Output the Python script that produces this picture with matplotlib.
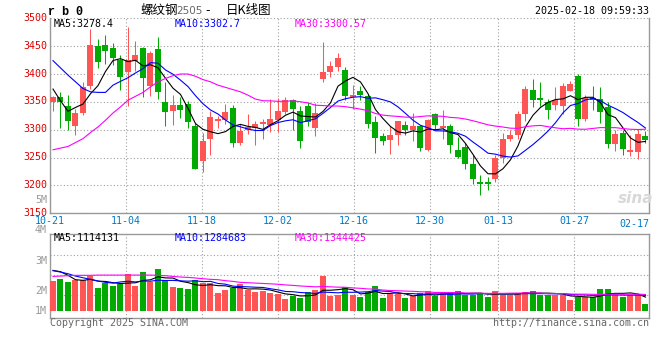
import numpy as np
import pandas as pd
import matplotlib
matplotlib.use('Agg')
import matplotlib.pyplot as plt
import matplotlib.transforms as mtransforms

# rb0 daily candles, 2024-10-21 .. 2025-02-18 (80 trading days)
opens = [3349, 3359, 3343, 3306, 3330, 3379, 3450, 3452, 3447, 3425,
         3403, 3424, 3447, 3379, 3445, 3349, 3333, 3345, 3347, 3306,
         3243, 3284, 3315, 3318, 3339, 3277, 3299, 3303, 3311, 3309,
         3317, 3331, 3354, 3334, 3342, 3304, 3391, 3403, 3413, 3407,
         3359, 3370, 3361, 3313, 3289, 3282, 3290, 3309, 3299, 3307,
         3264, 3328, 3304, 3306, 3264, 3269, 3239, 3207, 3207, 3212,
         3249, 3284, 3290, 3328, 3371, 3357, 3349, 3345, 3342, 3370,
         3397, 3319, 3357, 3355, 3340, 3274, 3294, 3260, 3260, 3289]
highs = [3360, 3367, 3362, 3338, 3386, 3480, 3462, 3470, 3455, 3434,
         3484, 3460, 3448, 3441, 3466, 3386, 3362, 3358, 3351, 3312,
         3295, 3333, 3324, 3346, 3345, 3310, 3329, 3316, 3319, 3355,
         3357, 3358, 3355, 3343, 3349, 3348, 3458, 3424, 3438, 3412,
         3380, 3379, 3364, 3324, 3294, 3307, 3316, 3316, 3330, 3309,
         3319, 3330, 3336, 3310, 3287, 3276, 3255, 3219, 3215, 3255,
         3294, 3300, 3333, 3379, 3391, 3386, 3355, 3376, 3383, 3388,
         3400, 3363, 3379, 3377, 3349, 3300, 3300, 3290, 3302, 3298]
lows = [3334, 3303, 3300, 3290, 3327, 3374, 3410, 3418, 3416, 3371,
        3343, 3405, 3358, 3361, 3356, 3306, 3308, 3321, 3304, 3229,
        3225, 3254, 3303, 3310, 3269, 3273, 3293, 3273, 3284, 3296,
        3296, 3329, 3299, 3268, 3307, 3288, 3385, 3395, 3406, 3354,
        3338, 3354, 3304, 3258, 3272, 3256, 3273, 3291, 3280, 3261,
        3261, 3302, 3284, 3259, 3249, 3230, 3202, 3183, 3191, 3207,
        3240, 3280, 3284, 3315, 3340, 3343, 3319, 3336, 3328, 3369,
        3306, 3315, 3336, 3312, 3268, 3262, 3255, 3252, 3248, 3276]
closes = [3359.5, 3349, 3315, 3330, 3377, 3452, 3422, 3442, 3428, 3394,
          3425, 3434, 3392, 3438, 3367, 3331, 3345, 3336, 3313, 3230,
          3280, 3323, 3319, 3331, 3277, 3298, 3305, 3310, 3313, 3319,
          3334, 3354, 3338, 3279, 3313, 3330, 3404, 3415, 3429, 3360,
          3362, 3363, 3310, 3286, 3279, 3291, 3315, 3299, 3306, 3268,
          3318, 3309, 3307, 3272, 3251, 3238, 3211, 3203, 3202, 3250,
          3284, 3291, 3328, 3373, 3354, 3354, 3336, 3354, 3379, 3382,
          3319, 3357, 3354, 3331, 3274, 3293, 3265, 3263, 3292, 3282]
volumes = [2420000, 2610000, 2390000, 2560000, 2560000, 2830000, 1870000, 2250000, 2060000, 2200000,
           3020000, 2010000, 3190000, 2340000, 3440000, 2560000, 1950000, 1870000, 1790000, 2530000,
           2280000, 2280000, 1460000, 1730000, 1840000, 2200000, 1730000, 1540000, 1600000, 1460000,
           1380000, 960000, 1240000, 1050000, 1540000, 1730000, 2890000, 1240000, 1290000, 1950000,
           1320000, 1130000, 1540000, 2040000, 1050000, 1400000, 1400000, 1050000, 1210000, 1430000,
           1620000, 1180000, 1430000, 1540000, 1620000, 1320000, 1320000, 1460000, 1130000, 1620000,
           1320000, 1320000, 1460000, 1540000, 1620000, 1320000, 1320000, 1320000, 1270000, 880000,
           1130000, 1130000, 1130000, 1790000, 1790000, 1320000, 1130000, 1320000, 1320000, 550000]

ma5_head = [3373, 3352, 3333, 3340]
ma10_head = [3424, 3411, 3398, 3386, 3374, 3368, 3367, 3367, 3380]
ma30_head = [3264, 3267, 3270, 3277, 3284, 3295, 3305, 3317, 3330, 3341,
             3353, 3360, 3367, 3377, 3386, 3392, 3397, 3400, 3400, 3396,
             3390, 3386, 3380, 3376, 3372, 3368, 3362, 3355, 3352]
vma5_head = [3330000, 3220000, 2920000, 2560000]
vma10_head = [3300000, 3190000, 3050000, 2860000, 2720000, 2590000, 2450000, 2340000, 2280000]
vma30_head = [2830000, 2860000, 2890000, 2920000, 2920000, 2920000, 2940000, 2940000, 2940000, 2940000,
              2940000, 2940000, 2940000, 2940000, 2920000, 2890000, 2830000, 2780000, 2750000, 2700000,
              2640000, 2590000, 2560000, 2480000, 2420000, 2340000, 2310000, 2280000, 2250000]

ma_last = ['3278.4', '3302.7', '3300.57']
vma_last = ['1114131', '1284683', '1344425']

tick_idx = [0, 10, 20, 30, 40, 50, 59, 69]
tick_labels = ['10-21', '11-04', '11-18', '12-02', '12-16', '12-30', '01-13', '01-27']
last_label = '02-17'
price_ticks = [3150, 3200, 3250, 3300, 3350, 3400, 3450, 3500]
vol_labels = ['4M', '3M', '2M', '1M']


def with_head(series, n, head):
    ma = pd.Series(series, dtype=float).rolling(n).mean().to_numpy()
    ma[:len(head)] = head
    return ma


RED = '#ff5555'
GREEN = '#00aa00'
GRID = '#a0a0a0'
FRAME = '#999999'
MONO = 'DejaVu Sans Mono'
FS = 7.2

o = np.array(opens, float)
c = np.array(closes, float)
h = np.array(highs, float)
l = np.array(lows, float)
x = np.arange(len(c))
up = c >= o
cols = np.where(up, RED, GREEN)

ma5 = with_head(closes, 5, ma5_head)
ma10 = with_head(closes, 10, ma10_head)
ma30 = with_head(closes, 30, ma30_head)
vma5 = with_head(volumes, 5, vma5_head)
vma10 = with_head(volumes, 10, vma10_head)
vma30 = with_head(volumes, 30, vma30_head)

W, H = 660, 360
fx = lambda px: px / W
fy = lambda py: 1 - py / H

fig = plt.figure(figsize=(6.6, 3.6), dpi=100)
fig.patch.set_facecolor('white')

ax = fig.add_axes([fx(50), fy(213.3), fx(599), 195 / H])
ax2 = fig.add_axes([fx(50), fy(318), fx(599), 84 / H])

# sina's grid drifts a little against the candles (7.6px vs 7.5px per day)
grid_x = np.array(tick_idx) * 7.6 / 7.5 - 0.4
xlim = (-0.4, 79.47)

# candles
body_lo = np.minimum(o, c)
body_h = np.maximum(np.abs(c - o), 1.8)
ax.vlines(x, l, h, colors=cols, linewidth=0.75, zorder=3)
ax.bar(x, body_h, bottom=body_lo, width=0.8, color=cols, linewidth=0, zorder=4)
ax.plot(x, ma5, color='black', lw=0.8, zorder=5)
ax.plot(x, ma10, color='#0000ff', lw=0.8, zorder=5)
ax.plot(x, ma30, color='#ff00ff', lw=0.8, zorder=5)

ax.set_xlim(*xlim)
ax.set_ylim(3150, 3500)
ax.set_yticks(price_ticks)
ax.set_yticklabels([str(p) for p in price_ticks], color='#dd0000', family=MONO, fontsize=FS)
ax.set_xticks(grid_x)
ax.set_xticklabels(tick_labels, color='#0078c8', family=MONO, fontsize=FS)
ax.tick_params(axis='y', length=0, pad=2.2)
ax.tick_params(axis='x', length=0, pad=2.0)
# price labels sit a pixel or two above their grid line
lift = mtransforms.ScaledTranslation(0, 1.5 / 100, fig.dpi_scale_trans)
for lab in ax.get_yticklabels():
    lab.set_transform(lab.get_transform() + lift)
ax.grid(True, color=GRID, linestyle=(0, (1, 2)), linewidth=0.8)
ax.set_axisbelow(True)
for s in ['left', 'right', 'bottom']:
    ax.spines[s].set_color(FRAME)
    ax.spines[s].set_linewidth(1.0)
ax.spines['top'].set_visible(False)
ax.text(1.0, -0.03, last_label, transform=ax.transAxes, ha='right', va='top',
        color='#0078c8', family=MONO, fontsize=FS)

# volume
vol = np.array(volumes, float)
ax2.bar(x, vol, width=0.8, color=cols, linewidth=0, zorder=3)
ax2.plot(x, vma5, color='black', lw=0.8, zorder=4)
ax2.plot(x, vma10, color='#0000ff', lw=0.8, zorder=4)
ax2.plot(x, vma30, color='#ff00ff', lw=0.8, zorder=4)
ax2.set_xlim(*xlim)
vlo, vhi = -0.6e6, 6.33e6
ax2.set_ylim(vlo, vhi)
ax2.set_yticks([vlo + f * (vhi - vlo) for f in (0.27, 0.515, 0.753)])
ax2.set_yticklabels([])
ax2.set_xticks(grid_x)
ax2.set_xticklabels([])
ax2.tick_params(length=0)
ax2.grid(True, color=GRID, linestyle=(0, (1, 2)), linewidth=0.8)
ax2.set_axisbelow(True)
for s in ax2.spines.values():
    s.set_color(FRAME)
    s.set_linewidth(1.0)

# texts
txt = dict(family=MONO, fontsize=FS, va='center')
fig.text(fx(48), fy(12), 'r b 0', family='Liberation Mono', weight='bold', fontsize=8.5, va='center')
fig.text(fx(140), fy(10.5), '螺纹钢', family='Noto Sans CJK SC', fontsize=9, va='center')
fig.text(fx(176.5), fy(11), '2505', family='DejaVu Sans', fontsize=7.5, color='#666666', va='center')
fig.text(fx(205), fy(10.5), '-', family='DejaVu Sans', fontsize=9, va='center')
fig.text(fx(226), fy(10.5), '日K线图', family='Noto Sans CJK SC', fontsize=9, va='center')
fig.text(fx(649), fy(11), '2025-02-18 09:59:33', ha='right', **txt)

fig.text(fx(54), fy(24), 'MA5:' + ma_last[0], color='black', **txt)
fig.text(fx(175), fy(24), 'MA10:' + ma_last[1], color='#0000ff', **txt)
fig.text(fx(295), fy(24), 'MA30:' + ma_last[2], color='#ff00ff', **txt)
fig.text(fx(54), fy(238), 'MA5:' + vma_last[0], color='black', **txt)
fig.text(fx(175), fy(238), 'MA10:' + vma_last[1], color='#0000ff', **txt)
fig.text(fx(295), fy(238), 'MA30:' + vma_last[2], color='#ff00ff', **txt)

fig.text(fx(47), fy(200), '5M', ha='right', color='#999999', **txt)
for lab, py in zip(vol_labels, [230.5, 260.7, 291, 310.7]):
    fig.text(fx(47), fy(py), lab, ha='right', color='#999999', **txt)

fig.text(fx(50), fy(323.5), 'Copyright 2025 SINA.COM', color='#666666', **txt)
fig.text(fx(649), fy(323.5), 'http://finance.sina.com.cn', ha='right', color='#666666', **txt)
fig.text(fx(636), fy(198), 'sina', ha='center', va='center', color='#d8d8d8',
         fontsize=11, style='italic', weight='bold', family='DejaVu Sans')

fig.savefig('out.png', dpi=100)
